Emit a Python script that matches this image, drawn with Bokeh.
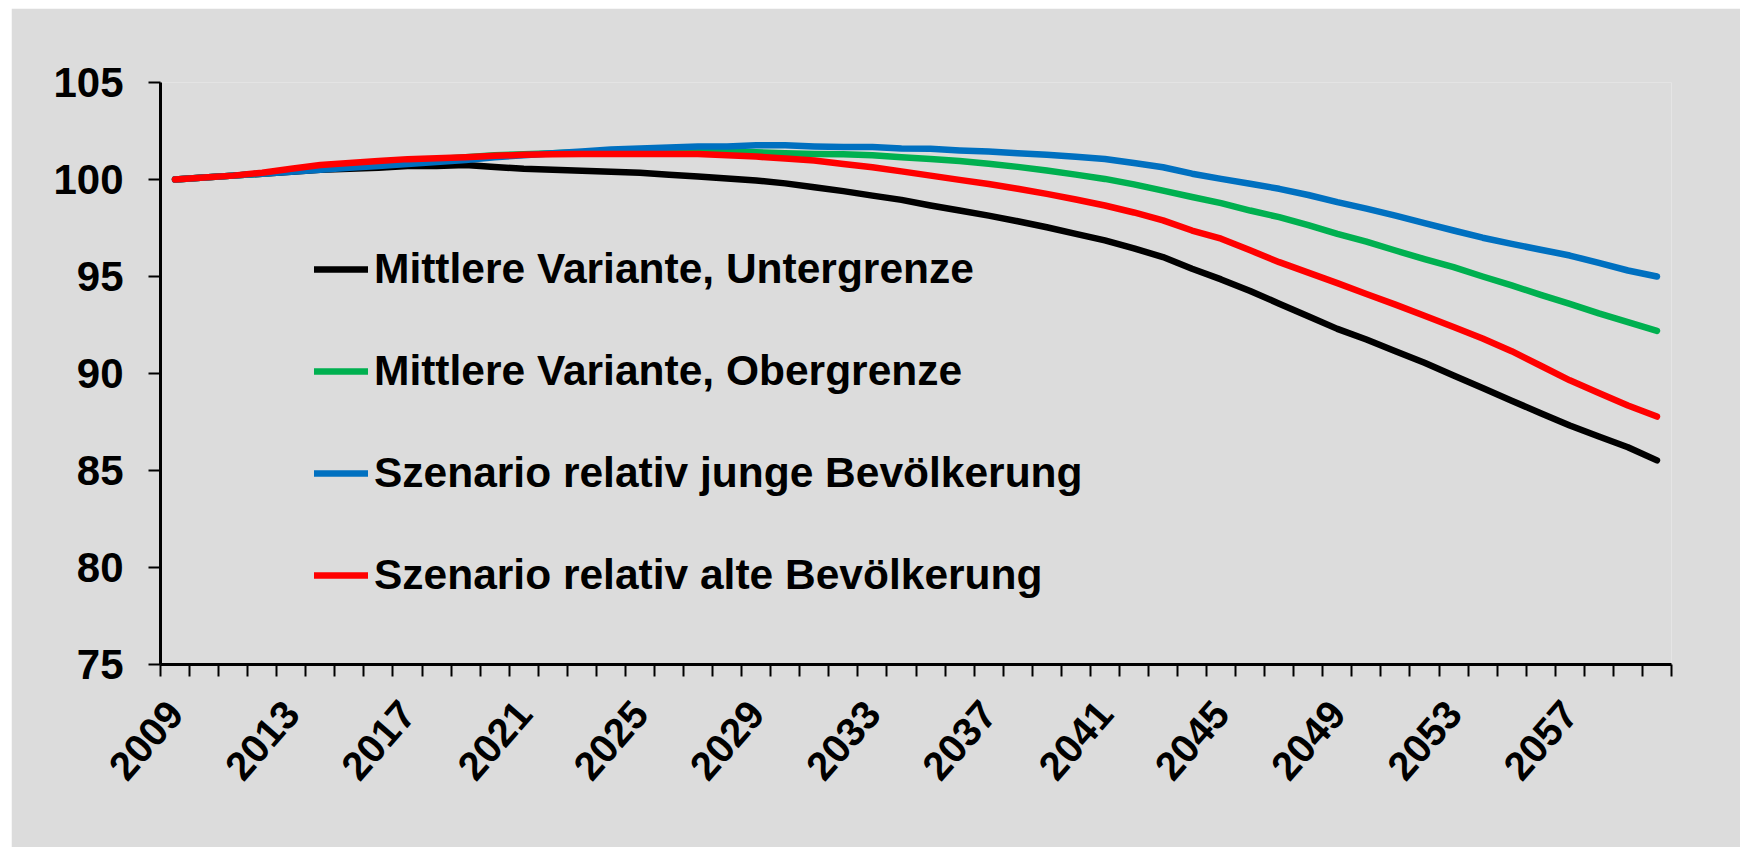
import math
from bokeh.plotting import figure
from bokeh.models import FixedTicker, Legend, LegendItem, Range1d
from bokeh.embed import file_html
from bokeh.resources import INLINE

years = list(range(2009, 2061))

untergrenze = [100.0, 100.1, 100.2, 100.3, 100.4, 100.5, 100.55, 100.6, 100.7, 100.7,
               100.75, 100.65, 100.55, 100.5, 100.45, 100.4, 100.35, 100.25, 100.15, 100.05,
               99.95, 99.8, 99.6, 99.4, 99.17, 98.95, 98.66, 98.4, 98.14, 97.85,
               97.54, 97.2, 96.86, 96.45, 96.0, 95.4, 94.85, 94.25, 93.6, 92.95,
               92.3, 91.75, 91.15, 90.55, 89.9, 89.25, 88.6, 87.95, 87.32, 86.75,
               86.2, 85.52]

obergrenze = [100.0, 100.1, 100.2, 100.3, 100.45, 100.6, 100.75, 100.85, 100.95, 101.05,
              101.15, 101.25, 101.3, 101.35, 101.4, 101.45, 101.5, 101.5, 101.5, 101.45,
              101.4, 101.35, 101.32, 101.3, 101.25, 101.15, 101.06, 100.95, 100.81, 100.65,
              100.46, 100.25, 100.03, 99.75, 99.43, 99.1, 98.78, 98.4, 98.06, 97.65,
              97.2, 96.8, 96.34, 95.9, 95.48, 95.0, 94.54, 94.05, 93.59, 93.1,
              92.65, 92.2]

junge = [100.0, 100.1, 100.2, 100.3, 100.4, 100.5, 100.6, 100.7, 100.8, 100.9,
         101.0, 101.15, 101.25, 101.35, 101.45, 101.55, 101.6, 101.65, 101.7, 101.7,
         101.76, 101.76, 101.7, 101.67, 101.67, 101.6, 101.58, 101.5, 101.44, 101.35,
         101.27, 101.17, 101.06, 100.85, 100.63, 100.3, 100.03, 99.78, 99.52, 99.2,
         98.83, 98.5, 98.14, 97.75, 97.37, 97.0, 96.68, 96.38, 96.08, 95.7,
         95.31, 95.0]

alte = [100.0, 100.1, 100.2, 100.35, 100.55, 100.75, 100.85, 100.95, 101.05, 101.1,
        101.15, 101.22, 101.27, 101.3, 101.32, 101.32, 101.32, 101.32, 101.32, 101.25,
        101.18, 101.08, 100.98, 100.8, 100.63, 100.42, 100.2, 99.98, 99.77, 99.52,
        99.26, 98.97, 98.66, 98.3, 97.89, 97.37, 96.95, 96.35, 95.74, 95.2,
        94.66, 94.1, 93.55, 92.98, 92.4, 91.8, 91.15, 90.4, 89.65, 89.0,
        88.35, 87.78]

series_names = ["Mittlere Variante, Untergrenze", "Mittlere Variante, Obergrenze",
                "Szenario relativ junge Bevölkerung", "Szenario relativ alte Bevölkerung"]
series_values = [untergrenze, obergrenze, junge, alte]
series_colors = ["#000000", "#00B050", "#0070C0", "#FF0000"]

label_years = list(range(2009, 2058, 4))
y_ticks = [75, 80, 85, 90, 95, 100, 105]

BG = "#DCDCDC"
FONT = "Liberation Sans"

p = figure(frame_width=1511, frame_height=582,
           min_border_left=149, min_border_right=69, min_border_top=74, min_border_bottom=183,
           output_backend="svg", toolbar_location=None,
           x_range=Range1d(years[0] - 0.5, years[-1] + 0.5), y_range=Range1d(75, 105))
p.margin = (8, 0, 0, 11)
p.background_fill_color = BG
p.border_fill_color = BG
p.outline_line_color = None
p.xgrid.visible = False
p.ygrid.visible = False

renderers = []
for vals, col in zip(series_values, series_colors):
    r = p.line(years, vals, line_color=col, line_width=6.5, line_cap="round", line_join="round")
    renderers.append(r)

# x axis
xa = p.xaxis[0]
xa.ticker = FixedTicker(ticks=label_years,
                        minor_ticks=[y - 0.5 for y in years] + [years[-1] + 0.5])
xa.major_tick_out = 0
xa.major_tick_in = 0
xa.minor_tick_out = 12
xa.minor_tick_in = 0
xa.minor_tick_line_width = 2
xa.minor_tick_line_color = "black"
xa.axis_line_width = 3
xa.axis_line_color = "black"
xa.major_label_orientation = math.radians(49)
xa.major_label_text_font = FONT
xa.major_label_text_font_style = "bold"
xa.major_label_text_font_size = "40px"
xa.major_label_text_color = "black"
xa.major_label_standoff = 30

# y axis
ya = p.yaxis[0]
ya.ticker = FixedTicker(ticks=y_ticks, minor_ticks=[])
ya.major_tick_out = 12
ya.major_tick_in = 0
ya.major_tick_line_width = 2
ya.major_tick_line_color = "black"
ya.minor_tick_out = 0
ya.minor_tick_in = 0
ya.axis_line_width = 3
ya.axis_line_color = "black"
ya.major_label_text_font = FONT
ya.major_label_text_font_style = "bold"
ya.major_label_text_font_size = "42px"
ya.major_label_text_color = "black"
ya.major_label_standoff = 25

items = [LegendItem(label=n, renderers=[r]) for n, r in zip(series_names, renderers)]
legend = Legend(items=items, location=(154, 65), orientation="vertical",
                label_text_font=FONT, label_text_font_style="bold",
                label_text_font_size="42.5px", label_text_color="black",
                glyph_width=54, glyph_height=48, label_height=48, label_standoff=6,
                spacing=54, padding=0, margin=0,
                border_line_color=None, background_fill_alpha=0)
p.add_layout(legend, "center")

open("out.html", "w").write(file_html(p, INLINE))
